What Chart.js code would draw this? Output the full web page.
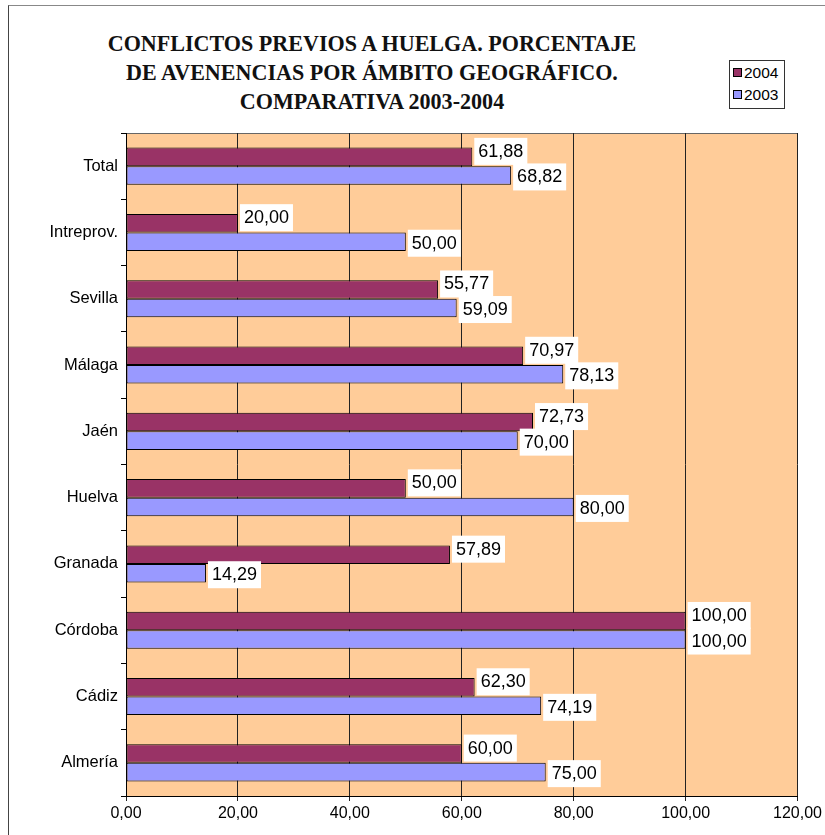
<!DOCTYPE html>
<html>
<head>
<meta charset="utf-8">
<script src="https://cdn.jsdelivr.net/npm/chart.js@4"></script>
<style>
  body { margin: 0; background: #fff; }
  #wrap { position: relative; width: 825px; height: 835px; overflow: hidden; }
  #frame { position: absolute; left: 8px; top: 5px; width: 900px; height: 900px; border-left: 1px solid #444; border-top: 1px solid #888; }
  #title { position: absolute; left: 72px; top: 29px; width: 600px; text-align: center;
    font-family: "Liberation Serif", "Times New Roman", serif; font-weight: bold; font-size: 24px;
    line-height: 29px; color: #111; transform: scaleX(0.92); transform-origin: 300px 0; }
  #legend { position: absolute; left: 729px; top: 60px; width: 54px; height: 47px; border: 1px solid #333;
    background: #fff; font-family: "Liberation Sans", Arial, sans-serif; font-size: 15.5px; color: #000; }
  .item { position: absolute; left: 3px; height: 20px; line-height: 20px; }
  .sw { display: inline-block; width: 7px; height: 7px; border: 1px solid #000; margin-right: 2px; vertical-align: 1px; }
  canvas { position: absolute; left: 0; top: 0; }
</style>
</head>
<body>
<div id="wrap">
  <div id="frame"></div>
  <div id="title">CONFLICTOS PREVIOS A HUELGA. PORCENTAJE<br>DE AVENENCIAS POR ÁMBITO GEOGRÁFICO.<br>COMPARATIVA 2003-2004</div>
  <div id="legend">
    <div class="item" style="top:2px"><span class="sw" style="background:#993366"></span>2004</div>
    <div class="item" style="top:24px"><span class="sw" style="background:#9999FF"></span>2003</div>
  </div>
  <canvas id="chart" width="825" height="835"></canvas>
</div>
<script>
// Data
const categories = ['Total', 'Intreprov.', 'Sevilla', 'Málaga', 'Jaén', 'Huelva', 'Granada', 'Córdoba', 'Cádiz', 'Almería'];
const values2004 = [61.88, 20.00, 55.77, 70.97, 72.73, 50.00, 57.89, 100.00, 62.30, 60.00];
const values2003 = [68.82, 50.00, 59.09, 78.13, 70.00, 80.00, 14.29, 100.00, 74.19, 75.00];
const xTicks = [0, 20, 40, 60, 80, 100, 120];

function fmt(v) {
    return v.toFixed(2).replace('.', ',');
}

// Plot background and top border
const plotBackground = {
    id: 'plotBackground',
    beforeDraw(chart) {
        const { ctx, chartArea: a } = chart;
        ctx.save();
        ctx.fillStyle = '#FFCC99';
        ctx.fillRect(a.left, a.top, a.right - a.left, a.bottom - a.top);
        ctx.strokeStyle = '#666';
        ctx.lineWidth = 1;
        ctx.beginPath();
        ctx.moveTo(a.left, a.top + 0.5);
        ctx.lineTo(a.right, a.top + 0.5);
        ctx.stroke();
        ctx.restore();
    }
};

// White-boxed value labels at bar ends
const valueLabels = {
    id: 'valueLabels',
    afterDatasetsDraw(chart) {
        const ctx = chart.ctx;
        ctx.save();
        ctx.font = '18px "Liberation Sans", Arial, sans-serif';
        ctx.textBaseline = 'middle';
        const order = [1, 0];
        order.forEach(di => {
            const meta = chart.getDatasetMeta(di);
            const shift = di === 0 ? -6 : 1;
            meta.data.forEach((bar, i) => {
                const text = fmt(chart.data.datasets[di].data[i]);
                const w = ctx.measureText(text).width;
                const x = bar.x + 2;
                const y = bar.y + shift;
                ctx.fillStyle = '#fff';
                ctx.fillRect(x, y - 13, w + 8, 27);
                ctx.fillStyle = '#000';
                ctx.fillText(text, x + 4, y + 1);
            });
        });
        ctx.restore();
    }
};

new Chart(document.getElementById('chart'), {
    type: 'bar',
    data: {
        labels: categories,
        datasets: [
            { label: '2004', data: values2004, backgroundColor: '#993366', borderColor: '#000', borderWidth: 1, borderSkipped: false },
            { label: '2003', data: values2003, backgroundColor: '#9999FF', borderColor: '#000', borderWidth: 1, borderSkipped: false }
        ]
    },
    options: {
        indexAxis: 'y',
        responsive: false,
        animation: false,
        devicePixelRatio: 1,
        layout: { padding: { left: 8, top: 133, right: 25, bottom: 0 } },
        datasets: { bar: { categoryPercentage: 0.56, barPercentage: 1 } },
        plugins: {
            legend: { display: false },
            tooltip: { enabled: false }
        },
        scales: {
            x: {
                min: 0,
                max: 120,
                afterBuildTicks(scale) {
                    scale.ticks = xTicks.map(v => ({ value: v }));
                },
                afterFit(scale) { scale.height = 39; },
                grid: { color: '#222', lineWidth: 1, drawTicks: true, tickLength: 5 },
                border: { color: '#000', width: 1 },
                ticks: {
                    color: '#000',
                    padding: 3,
                    font: { family: '"Liberation Sans", Arial, sans-serif', size: 16 },
                    callback: v => fmt(v)
                }
            },
            y: {
                afterFit(scale) { scale.width = 118; },
                grid: { drawOnChartArea: false, drawTicks: true, tickLength: 5, color: '#000' },
                border: { color: '#000', width: 1 },
                ticks: {
                    color: '#000',
                    padding: 3,
                    font: { family: '"Liberation Sans", Arial, sans-serif', size: 16.5 }
                }
            }
        }
    },
    plugins: [plotBackground, valueLabels]
});
</script>
</body>
</html>
